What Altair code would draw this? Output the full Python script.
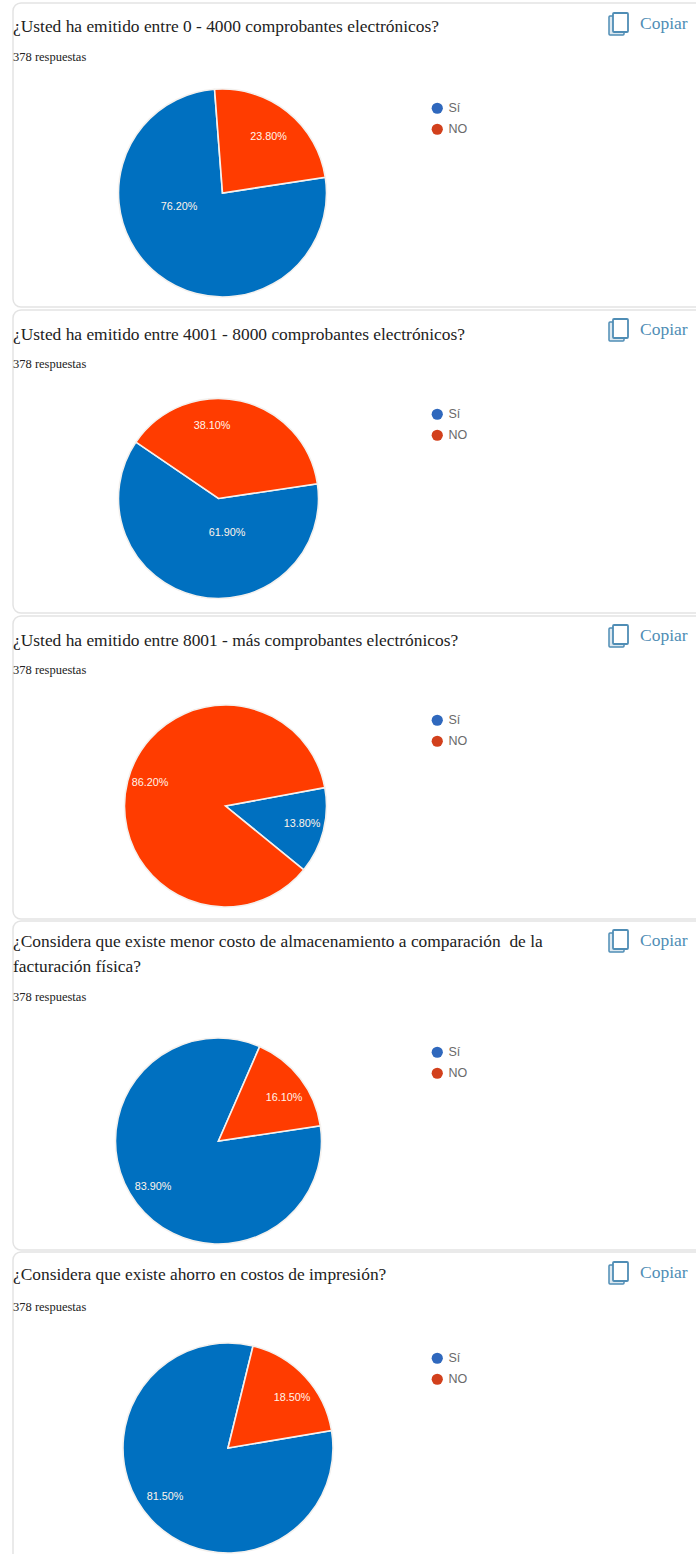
import math
import altair as alt
import pandas as pd

# Survey results: one question per card, shares in percent
questions = [
    ["¿Usted ha emitido entre 0 - 4000 comprobantes electrónicos?"],
    ["¿Usted ha emitido entre 4001 - 8000 comprobantes electrónicos?"],
    ["¿Usted ha emitido entre 8001 - más comprobantes electrónicos?"],
    ["¿Considera que existe menor costo de almacenamiento a comparación\u00a0 de la",
     "facturación física?"],
    ["¿Considera que existe ahorro en costos de impresión?"],
]
answers = ["Sí", "NO"]
si_share = [76.2, 61.9, 13.8, 83.9, 81.5]
no_share = [23.8, 38.1, 86.2, 16.1, 18.5]
responses_label = "378 respuestas"
copy_label = "Copiar"

PIE_BLUE, PIE_RED = "#0070c0", "#ff3c00"
KEY_BLUE, KEY_RED = "#2f68bd", "#d2401c"
ICON = "#4f8db5"
SERIF = "Liberation Serif"
W, H = 696, 1554

# Card layout in page pixels: card box, text rows and pie geometry
cards = [
    dict(box=(13, 3, 704, 307), title_y=[27], count_y=57, copy_y=24,
         cx=222.5, cy=193, r=104, start=81.3,
         si_xy=(179, 207), no_xy=(268.5, 137), key_y=109),
    dict(box=(13, 310, 704, 613), title_y=[335], count_y=364, copy_y=330,
         cx=218.5, cy=498.5, r=100, start=81.5,
         si_xy=(227, 533), no_xy=(212, 426), key_y=415),
    dict(box=(13, 616, 704, 919), title_y=[641], count_y=670, copy_y=636,
         cx=225.5, cy=806, r=101, start=79.5,
         si_xy=(302, 824), no_xy=(150, 783), key_y=721),
    dict(box=(13, 921, 704, 1250), title_y=[942, 967], count_y=997, copy_y=941,
         cx=218.5, cy=1141, r=103, start=81.5,
         si_xy=(153, 1187), no_xy=(284, 1098), key_y=1053),
    dict(box=(13, 1252, 704, 1600), title_y=[1275], count_y=1307, copy_y=1273,
         cx=228, cy=1448, r=105, start=80.4,
         si_xy=(165, 1497), no_xy=(292, 1398), key_y=1359),
]


def text_at(txt, x, y, **style):
    return alt.Chart(pd.DataFrame({"t": [txt]})).mark_text(baseline="middle", **style).encode(
        x=alt.value(x), y=alt.value(y), text="t:N")


def box_at(x, y, x2, y2, **style):
    return alt.Chart(pd.DataFrame({"k": [0]})).mark_rect(**style).encode(
        x=alt.value(x), y=alt.value(y), x2=alt.value(x2), y2=alt.value(y2))


def card_layers(lines, si, no, c):
    df = pd.DataFrame({"respuesta": answers, "valor": [si, no], "orden": [0, 1]})
    start = math.radians(c["start"])

    frame = box_at(*c["box"], fill="white", stroke="#e3e3e3", strokeWidth=1.5, cornerRadius=8)

    pie = alt.Chart(df).mark_arc(radius=c["r"], stroke="#f4f1ee", strokeWidth=1.6).encode(
        x=alt.value(c["cx"]),
        y=alt.value(c["cy"]),
        theta=alt.Theta("valor:Q", stack=True,
                        scale=alt.Scale(domain=[0, 100], range=[start, start + 2 * math.pi])),
        order=alt.Order("orden:Q"),
        color=alt.Color("respuesta:N", legend=None,
                        scale=alt.Scale(domain=answers, range=[PIE_BLUE, PIE_RED])),
    )

    key = alt.Chart(df).mark_point(filled=True, opacity=0, size=0).encode(
        x=alt.value(0),
        y=alt.value(0),
        color=alt.Color(
            "respuesta:N",
            scale=alt.Scale(domain=answers, range=[KEY_BLUE, KEY_RED]),
            legend=alt.Legend(
                title=None, orient="none", legendX=431, legendY=c["key_y"] - 7,
                symbolType="circle", symbolSize=125, symbolOpacity=1, symbolStrokeWidth=0,
                labelFont="Liberation Sans", labelFontSize=12.5, labelColor="#6a6a6a",
                labelOffset=5, rowPadding=8, padding=0,
            ),
        ),
    )

    layers = [frame, pie, key]
    for txt, y in zip(lines, c["title_y"]):
        layers.append(text_at(txt, 13, y, font=SERIF, fontSize=17.4, color="#222222", align="left"))
    layers.append(text_at(responses_label, 13, c["count_y"], font=SERIF, fontSize=12.5,
                          color="#222222", align="left"))

    # Percentage labels on the slices
    for val, xy in ((si, c["si_xy"]), (no, c["no_xy"])):
        layers.append(text_at(f"{val:.2f}%", xy[0], xy[1], font="Liberation Sans", fontSize=10.8,
                              color="#fff4ea", align="center"))

    # Copy button: two overlapping sheets and its caption
    y0 = c["copy_y"]
    layers.append(box_at(609, y0 - 8, 624, y0 + 11, stroke=ICON, strokeWidth=1.5, fill="#dce8f0",
                         cornerRadius=1))
    layers.append(box_at(613, y0 - 11, 628, y0 + 8, stroke=ICON, strokeWidth=1.8, fill="white",
                         cornerRadius=1))
    layers.append(text_at(copy_label, 640, y0, font=SERIF, fontSize=17.5, color=ICON,
                          align="left"))
    return layers


all_layers = []
for q, s, n, c in zip(questions, si_share, no_share, cards):
    all_layers.extend(card_layers(q, s, n, c))

chart = (
    alt.layer(*all_layers)
    .resolve_scale(color="independent", theta="independent")
    .properties(width=W, height=H, padding=0, background="white",
                autosize=alt.AutoSizeParams(type="none"))
    .configure_view(stroke=None)
)

chart.save("out.html", embed_options={"renderer": "svg", "actions": False})
